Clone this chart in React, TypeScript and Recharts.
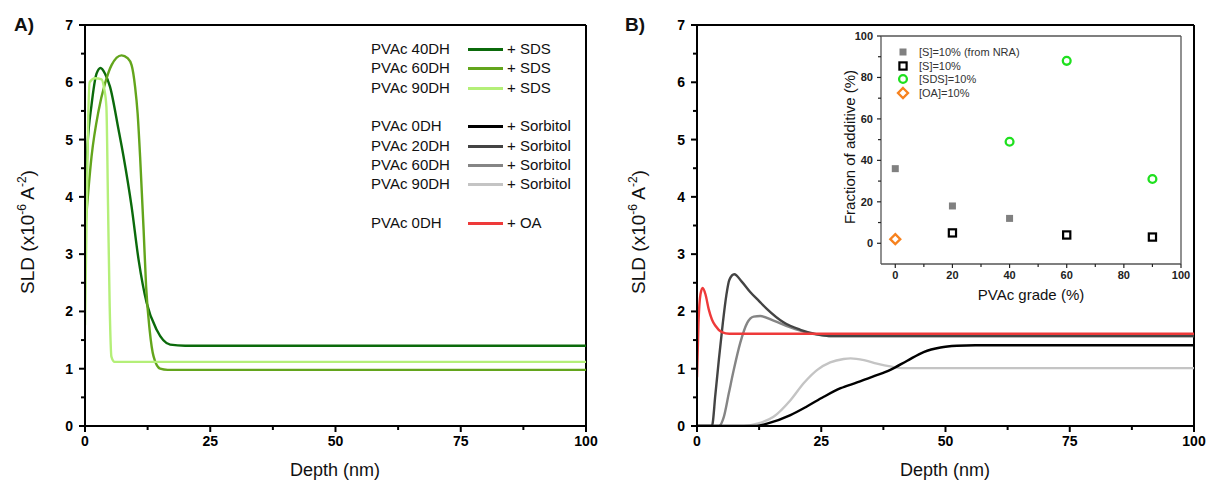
import React from 'react'
import { LineChart, Line, XAxis, YAxis, ReferenceLine, ScatterChart, Scatter } from 'recharts'

// Panel A: SLD profiles, PVAc + SDS (depth in nm, SLD in 1e-6 A^-2)
const sds40Depth = [0, 0.5, 1.3, 2.3, 3.1, 4.0, 5.0, 6.7, 7.7, 9.3, 10.7, 12.3, 14.3, 17, 20, 30, 100]
const sds40Sld = [3.9, 4.9, 5.6, 6.15, 6.25, 6.15, 5.92, 5.17, 4.7, 3.83, 2.9, 2.15, 1.68, 1.42, 1.4, 1.4, 1.4]
const sds60Depth = [0, 1.3, 2.7, 4.0, 5.3, 7.3, 8.5, 9.3, 10, 10.5, 11, 11.7, 12.2, 12.9, 13.7, 15, 16.5, 100]
const sds60Sld = [3.39, 4.7, 5.5, 5.98, 6.3, 6.47, 6.42, 6.3, 5.92, 5.46, 4.7, 3.42, 2.43, 1.68, 1.21, 1.0, 0.98, 0.98]
const sds90Depth = [0, 0.3, 0.6, 0.93, 2, 3.3, 3.8, 4.27, 4.6, 4.93, 5.27, 5.9, 100]
const sds90Sld = [1.76, 3.5, 5.2, 6.0, 6.07, 6.05, 5.9, 5.57, 3.83, 2.08, 1.21, 1.12, 1.12]

// Panel B: PVAc + sorbitol and + OA
const sorb0Depth = [0, 12, 14.1, 18.8, 22.1, 25.5, 28.9, 32.2, 35.6, 38.9, 42.3, 45.6, 49, 52.3, 56, 100]
const sorb0Sld = [0, 0, 0.04, 0.19, 0.34, 0.51, 0.66, 0.76, 0.87, 0.98, 1.14, 1.29, 1.37, 1.4, 1.41, 1.41]
const sorb20Depth = [0, 3.0, 3.7, 4.4, 5.2, 5.9, 6.5, 7.5, 9, 10.7, 12.5, 14.1, 17.4, 20.8, 24.2, 27, 100]
const sorb20Sld = [0, 0, 0.55, 1.16, 1.8, 2.28, 2.55, 2.65, 2.52, 2.34, 2.18, 2.04, 1.81, 1.68, 1.6, 1.57, 1.57]
const sorb60Depth = [0, 4.4, 5.4, 6.4, 7.4, 8.7, 10.1, 11.4, 12.75, 15.4, 18.8, 22.1, 25.5, 28, 100]
const sorb60Sld = [0, 0, 0.16, 0.57, 0.98, 1.45, 1.8, 1.91, 1.92, 1.84, 1.72, 1.63, 1.58, 1.57, 1.57]
const sorb90Depth = [0, 9.4, 12.1, 15.4, 18.8, 21.5, 24.2, 26.8, 29.5, 30.9, 33.6, 36.2, 38.9, 41.6, 45.6, 100]
const sorb90Sld = [0, 0, 0.04, 0.16, 0.45, 0.75, 0.98, 1.11, 1.17, 1.18, 1.15, 1.09, 1.04, 1.01, 1.01, 1.01]
const oaDepth = [0, 0.3, 0.7, 1.14, 1.7, 2.35, 3.0, 3.7, 5, 6.5, 100]
const oaSld = [0.85, 1.8, 2.3, 2.41, 2.3, 2.04, 1.86, 1.75, 1.64, 1.61, 1.61]

// Inset: fraction of additive vs PVAc grade
const nraGrade = [0, 20, 40]
const nraFraction = [36, 18, 12]
const sorbGrade = [20, 60, 90]
const sorbFraction = [5, 4, 3]
const sdsGrade = [40, 60, 90]
const sdsFraction = [49, 88, 31]
const oaGrade = [0]
const oaFraction = [2]
const insetLabels = ['[S]=10% (from NRA)', '[S]=10%', '[SDS]=10%', '[OA]=10%']

// ticks
const sldTicks = [0, 0.5, 1, 1.5, 2, 2.5, 3, 3.5, 4, 4.5, 5, 5.5, 6, 6.5, 7]
const depthTicks = [0, 12.5, 25, 37.5, 50, 62.5, 75, 87.5, 100]
const fracTicks = [0, 10, 20, 30, 40, 50, 60, 70, 80, 90, 100]
const gradeTicks = [0, 10, 20, 30, 40, 50, 60, 70, 80, 90, 100]

const FONT = "'Liberation Sans', Arial, sans-serif"

const zip = (xs: number[], ys: number[]) => xs.map((x, i) => ({ x, y: ys[i] }))

const sdsSeries = [
  { name: 'PVAc 40DH', additive: '+ SDS', data: zip(sds40Depth, sds40Sld), color: '#0b6a0b' },
  { name: 'PVAc 60DH', additive: '+ SDS', data: zip(sds60Depth, sds60Sld), color: '#63a51c' },
  { name: 'PVAc 90DH', additive: '+ SDS', data: zip(sds90Depth, sds90Sld), color: '#b4ef78' },
]
const sorbSeries = [
  { name: 'PVAc 0DH', additive: '+ Sorbitol', data: zip(sorb0Depth, sorb0Sld), color: '#000000' },
  { name: 'PVAc 20DH', additive: '+ Sorbitol', data: zip(sorb20Depth, sorb20Sld), color: '#444444' },
  { name: 'PVAc 60DH', additive: '+ Sorbitol', data: zip(sorb60Depth, sorb60Sld), color: '#858585' },
  { name: 'PVAc 90DH', additive: '+ Sorbitol', data: zip(sorb90Depth, sorb90Sld), color: '#c4c4c4' },
]
const oaSeries = [{ name: 'PVAc 0DH', additive: '+ OA', data: zip(oaDepth, oaSld), color: '#ee3a3a' }]

type TickOpts = {
  side: 'left' | 'bottom'
  at: number
  isMajor: (v: number) => boolean
  major: number
  minor: number
  gap: number
  size: number
  color: string
  width: number
}

const makeTick = (o: TickOpts) => (props: any) => {
  const v = props.payload.value
  const big = o.isMajor(v)
  const len = big ? o.major : o.minor
  if (o.side === 'left') {
    const y = props.y
    return (
      <g>
        <line x1={o.at} x2={o.at - len} y1={y} y2={y} stroke={o.color} strokeWidth={o.width} />
        {big && (
          <text x={o.at - o.major - o.gap} y={y} dy="0.36em" textAnchor="end" fontSize={o.size}
            fontWeight="bold" fill={o.color} fontFamily={FONT}>{v}</text>
        )}
      </g>
    )
  }
  const x = props.x
  return (
    <g>
      <line x1={x} x2={x} y1={o.at} y2={o.at + len} stroke={o.color} strokeWidth={o.width} />
      {big && (
        <text x={x} y={o.at + o.major + o.gap} dy="0.72em" textAnchor="middle" fontSize={o.size}
          fontWeight="bold" fill={o.color} fontFamily={FONT}>{v}</text>
      )}
    </g>
  )
}

const isInt = (v: number) => Math.abs(v - Math.round(v)) < 1e-9
const every = (n: number) => (v: number) => Math.abs(v % n) < 1e-9

const GraySquare = (p: any) => <rect x={p.cx - 3.5} y={p.cy - 3.5} width={7} height={7} fill="#808080" />
const OpenSquare = (p: any) => (
  <rect x={p.cx - 3.6} y={p.cy - 3.6} width={7.2} height={7.2} fill="none" stroke="#000" strokeWidth={2.2} />
)
const OpenCircle = (p: any) => <circle cx={p.cx} cy={p.cy} r={3.9} fill="none" stroke="#1fe01f" strokeWidth={2.3} />
const OpenDiamond = (p: any) => (
  <path d={`M${p.cx},${p.cy - 5} L${p.cx + 5},${p.cy} L${p.cx},${p.cy + 5} L${p.cx - 5},${p.cy} Z`}
    fill="none" stroke="#f7821e" strokeWidth={2.3} />
)
const insetShapes = [GraySquare, OpenSquare, OpenCircle, OpenDiamond]

const SldTitle = ({ cx, cy }: { cx: number; cy: number }) => (
  <div style={{
    position: 'absolute', left: cx, top: cy, transform: 'translate(-50%, -50%) rotate(-90deg)',
    whiteSpace: 'nowrap', fontSize: 19, fontFamily: FONT, color: '#111',
  }}>
    SLD (x10<sup style={{ fontSize: 12 }}>-6</sup> A<sup style={{ fontSize: 12 }}>-2</sup>)
  </div>
)

const Text = ({ cx, cy, size, children, rotate, bold }: any) => (
  <div style={{
    position: 'absolute', left: cx, top: cy,
    transform: `translate(-50%, -50%)${rotate ? ' rotate(-90deg)' : ''}`,
    whiteSpace: 'nowrap', fontSize: size, fontFamily: FONT, color: '#111', fontWeight: bold ? 'bold' : 'normal',
  }}>{children}</div>
)

type PanelProps = { series: typeof sdsSeries; axisX: number; plotW: number; right: number }

const SldPanel = ({ series, axisX, plotW, right }: PanelProps) => (
  <LineChart width={axisX + plotW + right} height={486} margin={{ top: 25, right, left: axisX - 40, bottom: 30 }}>
    <XAxis dataKey="x" type="number" domain={[0, 100]} ticks={depthTicks} interval={0} height={30}
      allowDataOverflow axisLine={{ stroke: '#000', strokeWidth: 2 }} tickLine={false}
      tick={makeTick({ side: 'bottom', at: 426, isMajor: every(25), major: 6, minor: 4, gap: 4, size: 14, color: '#000', width: 2 })} />
    <YAxis type="number" domain={[0, 7]} ticks={sldTicks} interval={0} width={40} allowDataOverflow
      axisLine={{ stroke: '#000', strokeWidth: 2 }} tickLine={false}
      tick={makeTick({ side: 'left', at: axisX, isMajor: isInt, major: 6, minor: 4, gap: 6, size: 14, color: '#000', width: 2 })} />
    <ReferenceLine y={7} stroke="#000" strokeWidth={2} />
    <ReferenceLine x={100} stroke="#000" strokeWidth={2} />
    {series.map((s, i) => (
      <Line key={i} data={s.data} dataKey="y" type="monotone" stroke={s.color} strokeWidth={2.4}
        dot={false} isAnimationActive={false} />
    ))}
  </LineChart>
)

export default function App() {
  const legendRows = [...sdsSeries, null, ...sorbSeries, null, ...oaSeries]
  return (
    <div style={{ position: 'absolute', left: 0, top: 0, width: 1206, height: 486, background: '#fff', fontFamily: FONT }}>
      <div style={{ position: 'absolute', left: 0, top: 0 }}>
        <SldPanel series={sdsSeries} axisX={85} plotW={501} right={20} />
      </div>
      <div style={{ position: 'absolute', left: 600, top: 0 }}>
        <SldPanel series={[...sorbSeries.slice().reverse(), ...oaSeries]} axisX={97} plotW={497} right={12} />
      </div>

      {/* inset */}
      <div style={{ position: 'absolute', left: 820, top: 0 }}>
        <ScatterChart width={386} height={320} margin={{ top: 36, right: 25, left: 31, bottom: 36 }}>
          <XAxis dataKey="x" type="number" domain={[-5, 100]} ticks={gradeTicks} interval={0} height={20}
            allowDataOverflow axisLine={{ stroke: '#555', strokeWidth: 1.3 }} tickLine={false}
            tick={makeTick({ side: 'bottom', at: 264, isMajor: every(20), major: 4, minor: 3, gap: 3, size: 11, color: '#222', width: 1.2 })} />
          <YAxis dataKey="y" type="number" domain={[-10, 100]} ticks={fracTicks} interval={0} width={30}
            allowDataOverflow axisLine={{ stroke: '#555', strokeWidth: 1.3 }} tickLine={false}
            tick={makeTick({ side: 'left', at: 61, isMajor: every(20), major: 4, minor: 3, gap: 4, size: 11, color: '#222', width: 1.2 })} />
          <ReferenceLine y={100} stroke="#555" strokeWidth={1.3} />
          <ReferenceLine x={100} stroke="#555" strokeWidth={1.3} />
          <Scatter data={zip(nraGrade, nraFraction)} shape={GraySquare} isAnimationActive={false} />
          <Scatter data={zip(sorbGrade, sorbFraction)} shape={OpenSquare} isAnimationActive={false} />
          <Scatter data={zip(sdsGrade, sdsFraction)} shape={OpenCircle} isAnimationActive={false} />
          <Scatter data={zip(oaGrade, oaFraction)} shape={OpenDiamond} isAnimationActive={false} />
        </ScatterChart>
      </div>
      {insetLabels.map((label, i) => {
        const Shape = insetShapes[i]
        const cy = 52 + i * 13.5
        return (
          <div key={label} style={{ position: 'absolute', left: 896, top: cy - 7, height: 14, display: 'flex', alignItems: 'center' }}>
            <svg width={14} height={14} style={{ overflow: 'visible' }}><Shape cx={7} cy={7} /></svg>
            <span style={{ marginLeft: 9, fontSize: 11, color: '#333', lineHeight: '14px' }}>{label}</span>
          </div>
        )
      })}
      <Text cx={849} cy={147} size={15} rotate>Fraction of additive (%)</Text>
      <Text cx={1031} cy={294} size={15}>PVAc grade (%)</Text>

      {/* panel A legend */}
      {legendRows.map((s, i) => {
        if (!s) return null
        const cy = Math.round(49 + i * 19.3)
        return (
          <div key={i} style={{ position: 'absolute', left: 371, top: cy - 10, height: 20, fontSize: 15, color: '#111', whiteSpace: 'nowrap' }}>
            <span style={{ position: 'absolute', left: 0, top: 0, lineHeight: '20px' }}>{s.name}</span>
            <span style={{ position: 'absolute', left: 97, top: 9, width: 35, height: 3, background: s.color }} />
            <span style={{ position: 'absolute', left: 136, top: 0, lineHeight: '20px' }}>{s.additive}</span>
          </div>
        )
      })}

      <SldTitle cx={27} cy={232} />
      <SldTitle cx={638} cy={232} />
      <Text cx={335} cy={470} size={18}>Depth (nm)</Text>
      <Text cx={945} cy={470} size={18}>Depth (nm)</Text>
      <Text cx={24} cy={25} size={19} bold>A)</Text>
      <Text cx={635} cy={25} size={19} bold>B)</Text>
    </div>
  )
}
